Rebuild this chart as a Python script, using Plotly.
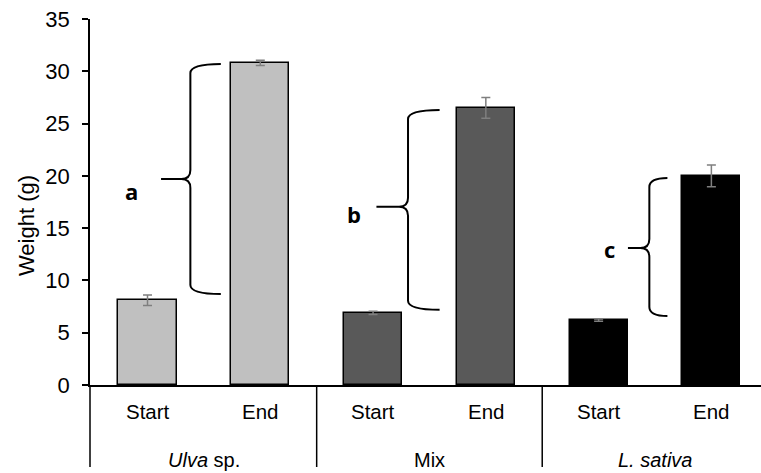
import plotly.graph_objects as go

# ---- data ----
bar_labels = ["Start", "End", "Start", "End", "Start", "End"]
groups = ["<i>Ulva</i> sp.", "Mix", "<i>L. sativa</i>"]
weights = [8.1, 30.8, 6.9, 26.5, 6.2, 20.0]
errors = [0.5, 0.25, 0.15, 1.0, 0.1, 1.05]
colors = ["#c0c0c0", "#c0c0c0", "#595959", "#595959", "#000000", "#000000"]

# braces (significance letters)
brace_letters = ["a", "b", "c"]
brace_top = [30.7, 26.3, 19.8]
brace_bottom = [8.7, 7.2, 6.6]
brace_mid = [19.7, 17.05, 13.1]
brace_x = [0.38, 2.31, 4.45]        # vertical line position
brace_tip = [0.65, 2.59, 4.61]      # end of the top/bottom hooks
brace_left = [0.12, 2.03, 4.26]     # end of the middle cusp
letter_x = [-0.14, 1.83, 4.10]
letter_y = [18.6, 16.4, 13.0]

yticks = [0, 5, 10, 15, 20, 25, 30, 35]

# ---- layout geometry ----
L, R, T, B = 89.5, 0, 19, 88
W, H = 761, 473
xr = [-0.51, 5.44]
yr = [0, 35]
pw = W - L - R
ph = H - T - B
px_x = pw / (xr[1] - xr[0])
px_y = ph / (yr[1] - yr[0])

x_pos = list(range(len(weights)))
regular = "Liberation Sans, Arial"

fig = go.Figure()
fig.add_trace(go.Bar(
    x=x_pos, y=weights, width=0.515,
    marker=dict(color=colors, line=dict(color="black", width=1.5)),
    error_y=dict(type="data", array=errors, visible=True,
                 color="#7f7f7f", thickness=1.5, width=4.5),
    showlegend=False,
))

shapes = []
annotations = []

# braces
rx = 9 / px_x
ry = 9 / px_y
for i in range(len(brace_letters)):
    xv, xt, xl = brace_x[i], brace_tip[i], brace_left[i]
    yt, yb, ym = brace_top[i], brace_bottom[i], brace_mid[i]
    path = (
        f"M {xt},{yt} Q {xv},{yt} {xv},{yt-ry} L {xv},{ym+ry} "
        f"Q {xv},{ym} {xv-rx},{ym} L {xl},{ym} "
        f"M {xv-rx},{ym} Q {xv},{ym} {xv},{ym-ry} L {xv},{yb+ry} "
        f"Q {xv},{yb} {xt},{yb}"
    )
    shapes.append(dict(type="path", path=path, xref="x", yref="y",
                       line=dict(color="black", width=2)))
    annotations.append(dict(x=letter_x[i], y=letter_y[i], xref="x", yref="y",
                            text=f"<b>{brace_letters[i]}</b>", showarrow=False,
                            font=dict(size=22, color="black", family="Open Sans")))

# category labels
for i, lab in enumerate(bar_labels):
    annotations.append(dict(x=x_pos[i], y=-26 / ph, xref="x", yref="paper",
                            text=lab, showarrow=False, yanchor="middle",
                            font=dict(size=20.5, color="black", family=regular)))
for g, lab in enumerate(groups):
    annotations.append(dict(x=2 * g + 0.5, y=-75 / ph, xref="x", yref="paper",
                            text=lab, showarrow=False, yanchor="middle",
                            font=dict(size=20, color="black", family=regular)))

# group separators & left axis extension below zero
sep_bottom = -82 / ph
for xs in [1.5, 3.5]:
    shapes.append(dict(type="line", xref="x", yref="paper", x0=xs, x1=xs,
                       y0=0, y1=sep_bottom, line=dict(color="black", width=1.5)))
shapes.append(dict(type="line", xref="paper", yref="paper", x0=0, x1=0,
                   y0=0, y1=sep_bottom, line=dict(color="black", width=1.5)))

# y-axis title
annotations.append(dict(x=-64 / pw, y=(385 - 226) / ph, xref="paper",
                        yref="paper", text="Weight (g)", textangle=-90,
                        showarrow=False, xanchor="center", yanchor="middle",
                        font=dict(size=22, color="black", family=regular)))

fig.update_layout(
    width=W, height=H,
    margin=dict(l=L, r=R, t=T, b=B, pad=0),
    paper_bgcolor="white", plot_bgcolor="white",
    shapes=shapes, annotations=annotations,
    xaxis=dict(range=xr, showticklabels=False, ticks="", showgrid=False,
               zeroline=False, showline=True, linecolor="black", linewidth=1.5),
    yaxis=dict(range=yr, tickvals=yticks, ticks="outside", ticklen=6,
               tickwidth=1.5, tickcolor="black", showgrid=False, zeroline=False,
               showline=True, linecolor="black", linewidth=1.5,
               ticklabelstandoff=8,
               tickfont=dict(size=22, color="black", family=regular)),
    bargap=0,
)

fig.write_html("out.html")
